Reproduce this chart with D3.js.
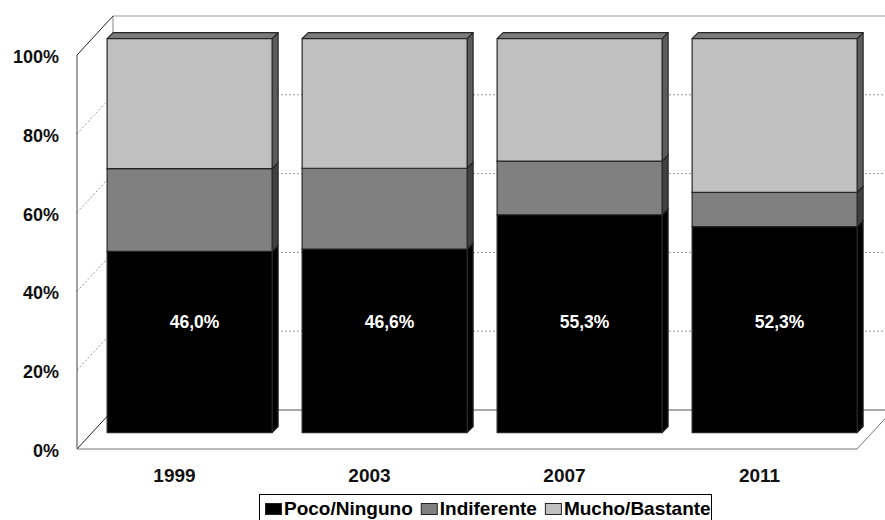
<!DOCTYPE html>
<html>
<head>
<meta charset="utf-8">
<script src="https://cdn.jsdelivr.net/npm/d3@7"></script>
<style>
  body { margin: 0; background: #fff; }
  text { font-family: "Liberation Sans", Arial, sans-serif; font-weight: bold; }
</style>
</head>
<body>
<svg id="chart" width="885" height="520"></svg>
<script>
  // datos (porcentajes)
  const years = ['1999', '2003', '2007', '2011'];
  const seriesNames = ['Poco/Ninguno', 'Indiferente', 'Mucho/Bastante'];
  const poco = [46.0, 46.6, 55.3, 52.3];
  const indiferente = [21.0, 20.5, 13.6, 8.7];
  const mucho = [33.0, 32.9, 31.1, 39.0];
  const pocoLabels = ['46,0%', '46,6%', '55,3%', '52,3%'];
  const yTicks = [0, 20, 40, 60, 80, 100];

  const seriesValues = [poco, indiferente, mucho];
  const frontColors = ['#000000', '#808080', '#c0c0c0'];
  const sideColors = ['#000000', '#404040', '#5c5c5c'];
  const topColor = '#7a7a7a';

  const DEPTH_X = 36;   // profundidad del suelo
  const DEPTH_Y = 39;
  const BAR_T = 0.42;   // plano de las barras
  const SIDE = 6;       // grosor de las barras
  const LABEL_LEVEL = 28;

  const svg = d3.select('#chart');

  const x = d3.scaleBand()
    .domain(years)
    .range([77, 857])
    .paddingInner(30 / 195)
    .paddingOuter(15 / 195);
  const y = d3.scaleLinear().domain([0, 100]).range([449, 55]);

  const barDx = DEPTH_X * BAR_T;
  const barDy = DEPTH_Y * BAR_T;

  const line = (x1, y1, x2, y2, color, dash, w) =>
    svg.append('line')
      .attr('x1', x1).attr('y1', y1).attr('x2', x2).attr('y2', y2)
      .attr('stroke', color)
      .attr('stroke-width', w || 1)
      .attr('stroke-dasharray', dash || null);

  // rejilla punteada (pared izquierda y pared del fondo)
  yTicks.filter(v => v > 0 && v < 100).forEach(v => {
    line(77, y(v), 77 + DEPTH_X, y(v) - DEPTH_Y, '#9a9a9a', '2,2');
    line(77 + DEPTH_X, y(v) - DEPTH_Y, 900, y(v) - DEPTH_Y, '#9a9a9a', '2,2');
  });

  // paredes
  line(77 + DEPTH_X, y(100) - DEPTH_Y, 900, y(100) - DEPTH_Y, '#999');
  line(77 + DEPTH_X, y(100) - DEPTH_Y, 77 + DEPTH_X, y(0) - DEPTH_Y, '#888');
  line(77, y(100), 77 + DEPTH_X, y(100) - DEPTH_Y, '#222');
  line(77, y(100), 77, y(0), '#444');

  // suelo
  line(77 + DEPTH_X, y(0) - DEPTH_Y, 900, y(0) - DEPTH_Y, '#555');
  line(77, y(0), 77 + DEPTH_X, y(0) - DEPTH_Y, '#222');
  line(77, y(0), 857, y(0), '#777');
  line(857, y(0), 857 + DEPTH_X, y(0) - DEPTH_Y, '#777');

  // barras apiladas 3D
  years.forEach((yr, i) => {
    const x0 = x(yr) + barDx;
    const x1 = x0 + x.bandwidth();
    let acc = 0;
    seriesValues.forEach((vals, s) => {
      const yb = y(acc) - barDy;
      acc += vals[i];
      const yt = y(acc) - barDy;
      const g = svg.append('g').attr('stroke', '#262626').attr('stroke-width', 1.2)
        .attr('stroke-linejoin', 'round');
      g.append('path')
        .attr('d', `M${x1},${yb}L${x1 + SIDE},${yb - SIDE}L${x1 + SIDE},${yt - SIDE}L${x1},${yt}Z`)
        .attr('fill', sideColors[s]);
      g.append('path')
        .attr('d', `M${x0},${yt}L${x0 + SIDE},${yt - SIDE}L${x1 + SIDE},${yt - SIDE}L${x1},${yt}Z`)
        .attr('fill', s === 2 ? topColor : sideColors[s]);
      g.append('rect')
        .attr('x', x0).attr('y', yt)
        .attr('width', x.bandwidth()).attr('height', yb - yt)
        .attr('fill', frontColors[s]);
    });
    svg.append('text')
      .attr('x', x0 + x.bandwidth() / 2 + 5)
      .attr('y', y(LABEL_LEVEL) - barDy + 6)
      .attr('text-anchor', 'middle')
      .attr('fill', '#fff')
      .style('font-size', '17.5px')
      .text(pocoLabels[i]);
  });

  // eje Y
  svg.selectAll('.ytick')
    .data(yTicks)
    .enter()
    .append('text')
    .attr('class', 'ytick')
    .attr('x', 59)
    .attr('y', v => y(v) + 8)
    .attr('text-anchor', 'end')
    .attr('fill', '#111')
    .style('font-size', '18px')
    .text(v => v + '%');

  // eje X
  svg.selectAll('.xtick')
    .data(years)
    .enter()
    .append('text')
    .attr('class', 'xtick')
    .attr('x', d => x(d) - 15 + 195 / 2)
    .attr('y', 482)
    .attr('text-anchor', 'middle')
    .attr('fill', '#111')
    .style('font-size', '19px')
    .text(d => d);

  // leyenda
  const legend = svg.append('g');
  legend.append('rect')
    .attr('x', 259.5).attr('y', 494.5)
    .attr('width', 452).attr('height', 40)
    .attr('fill', '#fff').attr('stroke', '#000');
  let lx = 265;
  seriesNames.forEach((name, s) => {
    legend.append('rect')
      .attr('x', lx + 0.5).attr('y', 503.5)
      .attr('width', 16).attr('height', 11)
      .attr('fill', frontColors[s]).attr('stroke', '#222');
    const t = legend.append('text')
      .attr('x', lx + 19)
      .attr('y', 515)
      .attr('fill', '#000')
      .style('font-size', '19px')
      .text(name);
    lx += 19 + t.node().getComputedTextLength() + 8;
  });
</script>
</body>
</html>
